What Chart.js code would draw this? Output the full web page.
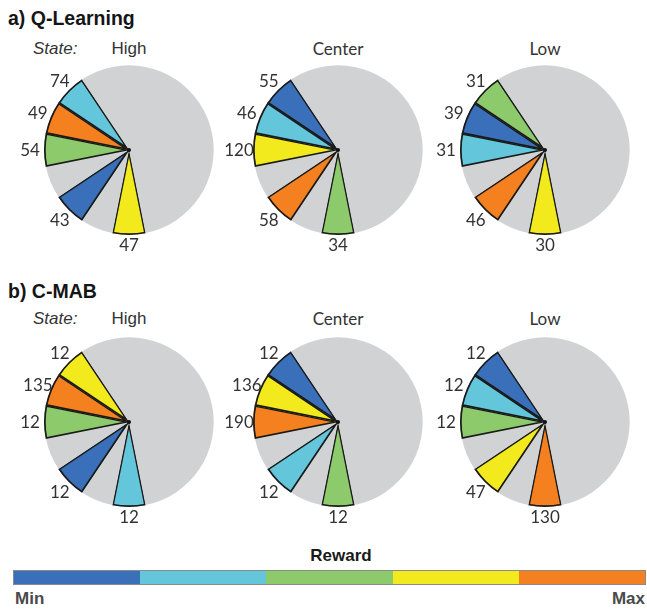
<!DOCTYPE html>
<html>
<head>
<meta charset="utf-8">
<script src="https://cdn.jsdelivr.net/npm/chart.js@4.4.1/dist/chart.umd.min.js"></script>
<style>
  body { margin: 0; background: #fff; }
  #page { position: relative; width: 647px; height: 610px; overflow: hidden; }
  .txt { position: absolute; white-space: nowrap; line-height: 1; }
  .head { font: bold 19.5px "Liberation Sans", Arial, sans-serif; color: #151515; }
  .stateLbl { font: italic 17px "Liberation Sans", Arial, sans-serif; color: #333; }
  .arial { font: 17px "Liberation Sans", Arial, sans-serif; color: #333; }
  .lato { font: 17px Lato, sans-serif; color: #333; }
  .pie { position: absolute; }
  #bar { position: absolute; left: 13px; top: 570px; width: 633px; height: 15px;
         box-sizing: border-box; border: 1px solid #8a8a8a; display: flex; }
  #bar div { flex: 1; }
  .bold { font: bold 17px "Liberation Sans", Arial, sans-serif; }
</style>
</head>
<body>
<div id="page">
  <div class="txt head" style="left:8px; top:7px;">a) Q-Learning</div>
  <div class="txt stateLbl" style="left:33px; top:38.5px;">State:</div>
  <div class="txt head" style="left:8px; top:279.5px;">b) C-MAB</div>
  <div class="txt stateLbl" style="left:33px; top:308.5px;">State:</div>

  <div class="txt bold" style="left:341px; top:545.5px; transform:translateX(-50%); color:#1a1a1a;">Reward</div>
  <div id="bar"></div>
  <div class="txt bold" style="left:15px; top:588.5px; color:#4a4a4a;">Min</div>
  <div class="txt bold" style="right:2px; top:588.5px; color:#4a4a4a;">Max</div>
</div>

<script>
// state of each column
const states = ['High', 'Center', 'Low'];

// reward rank of each wedge (1 = Min ... 5 = Max), listed from the top wedge down
const qRanks = [
  [2, 5, 3, 1, 4],
  [1, 2, 4, 5, 3],
  [3, 1, 2, 5, 4]
];
const qCounts = [
  [74, 49, 54, 43, 47],
  [55, 46, 120, 58, 34],
  [31, 39, 31, 46, 30]
];

const cRanks = [
  [4, 5, 3, 1, 2],
  [1, 4, 5, 2, 3],
  [1, 2, 3, 4, 5]
];
const cCounts = [
  [12, 135, 12, 12, 12],
  [12, 136, 190, 12, 12],
  [12, 12, 12, 47, 130]
];

const rewardColors = ['#3a70b9', '#63c6da', '#8dca6b', '#f2ea1c', '#f4801f'];
const GRAY = '#d1d2d4';

const page = document.getElementById('page');

// colour scale bar
rewardColors.forEach(c => {
  const d = document.createElement('div');
  d.style.background = c;
  document.getElementById('bar').appendChild(d);
});

// labels outside each coloured wedge
const countLabels = {
  id: 'countLabels',
  afterDatasetsDraw(chart) {
    const ctx = chart.ctx;
    const meta = chart.getDatasetMeta(0);
    const labels = chart.data.labels;
    ctx.save();
    ctx.font = '17px Lato, sans-serif';
    ctx.fillStyle = '#333';
    ctx.textAlign = 'center';
    ctx.textBaseline = 'middle';
    meta.data.forEach((arc, i) => {
      if (!labels[i]) return;
      const p = arc.getProps(['x', 'y', 'startAngle', 'endAngle', 'outerRadius'], true);
      const mid = (p.startAngle + p.endAngle) / 2;
      const r = p.outerRadius + 10 + 4 * Math.abs(Math.cos(mid));
      ctx.fillText(labels[i], p.x + Math.cos(mid) * r, p.y + Math.sin(mid) * r + 1);
    });
    // small dark hub where the wedge edges meet
    const c = meta.data[0];
    ctx.fillStyle = '#111';
    ctx.beginPath();
    ctx.arc(c.x, c.y, 2, 0, Math.PI * 2);
    ctx.fill();
    ctx.restore();
  }
};

function makePie(cx, cy, ranks, counts) {
  const canvas = document.createElement('canvas');
  canvas.width = 240;
  canvas.height = 240;
  canvas.className = 'pie';
  canvas.style.left = (cx - 120) + 'px';
  canvas.style.top = (cy - 120) + 'px';
  page.appendChild(canvas);

  // going clockwise from the bottom wedge: w5, gap, w4, gap, w3, w2, w1, rest
  const order = [4, null, 3, null, 2, 1, 0];
  const data = [], colors = [], widths = [], labels = [];
  order.forEach(k => {
    data.push(1);
    if (k === null) {
      colors.push(GRAY); widths.push(0); labels.push('');
    } else {
      colors.push(rewardColors[ranks[k] - 1]); widths.push(1.4); labels.push(String(counts[k]));
    }
  });
  data.push(9); colors.push(GRAY); widths.push(0); labels.push('');

  new Chart(canvas.getContext('2d'), {
    type: 'pie',
    data: {
      labels: labels,
      datasets: [{
        data: data,
        backgroundColor: colors,
        borderColor: '#1a1a1a',
        borderWidth: widths,
        borderAlign: 'inner'
      }]
    },
    options: {
      responsive: false,
      animation: false,
      events: [],
      radius: 85,
      rotation: 168.75,
      plugins: { legend: { display: false }, tooltip: { enabled: false } }
    },
    plugins: [countLabels]
  });
}

const colX = [129, 338, 545];
states.forEach((s, j) => {
  const cls = j === 0 ? 'arial' : 'lato';
  const top = j === 0 ? 38.5 : 38;
  [[top, s], [top + 270, s]].forEach(([t, text]) => {
    const d = document.createElement('div');
    d.className = 'txt ' + cls;
    d.style.left = colX[j] + 'px';
    d.style.top = t + 'px';
    d.style.transform = 'translateX(-50%)';
    d.textContent = text;
    page.appendChild(d);
  });
  makePie(colX[j], 150, qRanks[j], qCounts[j]);
  makePie(colX[j], 422, cRanks[j], cCounts[j]);
});
</script>
</body>
</html>
